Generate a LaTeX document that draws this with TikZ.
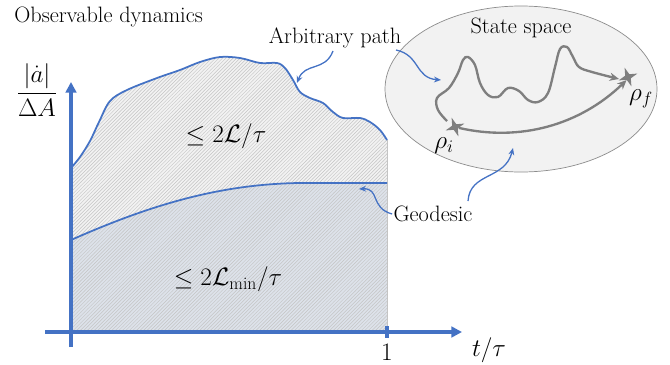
\documentclass[tikz,border=0pt]{standalone}
\usepackage{fix-cm}
\usepackage{amsmath}
\usepackage{fontspec}
\usetikzlibrary{arrows.meta, patterns, shapes.geometric}
\definecolor{axisblue}{HTML}{4472C4}
\definecolor{pathgray}{HTML}{7F7F7F}
\definecolor{spacefill}{HTML}{F2F2F2}
\definecolor{spaceline}{HTML}{8C8C8C}
\definecolor{bandfill}{HTML}{DDE2EA}
\definecolor{hatchgray}{HTML}{C4C4C4}
\tikzset{
  lbl/.style={font=\fontsize{19}{22}\selectfont, inner sep=1pt},
  mathlbl/.style={font=\fontsize{21.5}{24}\selectfont, inner sep=1pt},
  axisline/.style={draw=axisblue, line width=2.6pt},
  curveline/.style={draw=axisblue, line width=1.5pt},
  pointer/.style={draw=axisblue, line width=1.1pt, -{Stealth[length=6pt, width=5pt]}},
  walk/.style={draw=pathgray, line width=2pt, -{Stealth[length=8pt, width=7pt]}},
  mark star/.style={star, star points=4, star point ratio=3.2, fill=pathgray,
                    draw=none, minimum size=17pt, inner sep=0pt, rotate=20},
  hatched/.style={postaction={pattern=north east lines, pattern color=hatchgray}},
}
\begin{document}
\begin{tikzpicture}[x=0.03cm, y=-0.03cm]
  \useasboundingbox (0,0) rectangle (670,365);

  % regions under the curves
  \fill[spacefill, hatched] (71,332) -- plot[smooth, tension=0.55] coordinates {
    (71,168) (80,157) (90,141) (99,122) (110,101) (127,90) (157,78)
    (180,70) (200,62) (220,57) (240,58) (260,63) (277,63) (285,68)
    (293,80) (300,92) (310,98) (323,103) (333,112) (343,118) (360,118)
    (370,122) (380,130) (387,140)} -- (387,332) -- cycle;
  \fill[bandfill, hatched] (71,332) -- (71,240)
    .. controls (150,205) and (220,184) .. (300,183)
    -- (387,183) -- (387,332) -- cycle;
  \draw[hatchgray, line width=0.6pt] (387,140) -- (387,332);

  % the two curves
  \draw[curveline] plot[smooth, tension=0.55] coordinates {
    (71,168) (80,157) (90,141) (99,122) (110,101) (127,90) (157,78)
    (180,70) (200,62) (220,57) (240,58) (260,63) (277,63) (285,68)
    (293,80) (300,92) (310,98) (323,103) (333,112) (343,118) (360,118)
    (370,122) (380,130) (387,140)};
  \draw[curveline] (71,240)
    .. controls (150,205) and (220,184) .. (300,183)
    -- (387,183);

  % axes
  \draw[axisline, -{Triangle[length=9pt, width=9pt]}] (71,347) -- (71,82);
  \draw[axisline, -{Triangle[length=9pt, width=9pt]}] (45,332) -- (462,332);
  \draw[axisline] (387,326) -- (387,338);

  \node[lbl, anchor=west] (title) at (13,17) {Observable dynamics};
  \node[mathlbl] (ylabel) at (37,90) {$\dfrac{|\dot{a}|}{\Delta A}$};
  \node[mathlbl] (one) at (387,352) {$1$};
  \node[mathlbl] (xlabel) at (489,350) {$t/\tau$};
  \node[mathlbl] (upper) at (226,136) {$\leq 2\mathcal{L}/\tau$};
  \node[mathlbl] (lower) at (228,279) {$\leq 2\mathcal{L}_{\min}/\tau$};

  % state space
  \coordinate (space) at (521,89);
  \draw[spaceline, fill=spacefill, line width=0.6pt] (space) ellipse [x radius=136, y radius=83];
  \node[lbl] (spacename) at (521,28) {State space};

  \node[mark star] (rhoi) at (455,127) {};
  \node[mark star] (rhof) at (628,77) {};
  \node[mathlbl] (rhoilbl) at (444,146) {$\rho_i$};
  \node[mathlbl] (rhoflbl) at (641,99) {$\rho_f$};

  \draw[walk] plot[smooth, tension=0.6] coordinates {
    (447,121) (438,110) (437,98) (449,88) (458,73) (463,60) (468,57)
    (475,65) (480,83) (488,95) (498,97) (508,88) (519,91) (528,100)
    (538,102) (548,93) (555,67) (560,49) (567,47) (573,57) (579,67)
    (592,72) (619,79)};
  \draw[walk] (rhoi) .. controls (520,142) and (580,125) .. (rhof.south west);

  % pointers
  \node[lbl] (arbitrary) at (335,38) {Arbitrary path};
  \node[lbl] (geodesic) at (433,214) {Geodesic};
  \coordinate (onpath) at (297,83);
  \coordinate (inspace) at (441,80);
  \coordinate (oncurve) at (359,189);
  \coordinate (ongeod) at (513,148);
  \draw[pointer] (333,51) .. controls (325,72) and (305,62) .. (onpath);
  \draw[pointer] (396,50) .. controls (420,55) and (415,78) .. (inspace);
  \draw[pointer] (geodesic.west) .. controls (370,208) and (380,188) .. (oncurve);
  \draw[pointer] (468,201) .. controls (470,172) and (505,180) .. (ongeod);
\end{tikzpicture}
\end{document}
